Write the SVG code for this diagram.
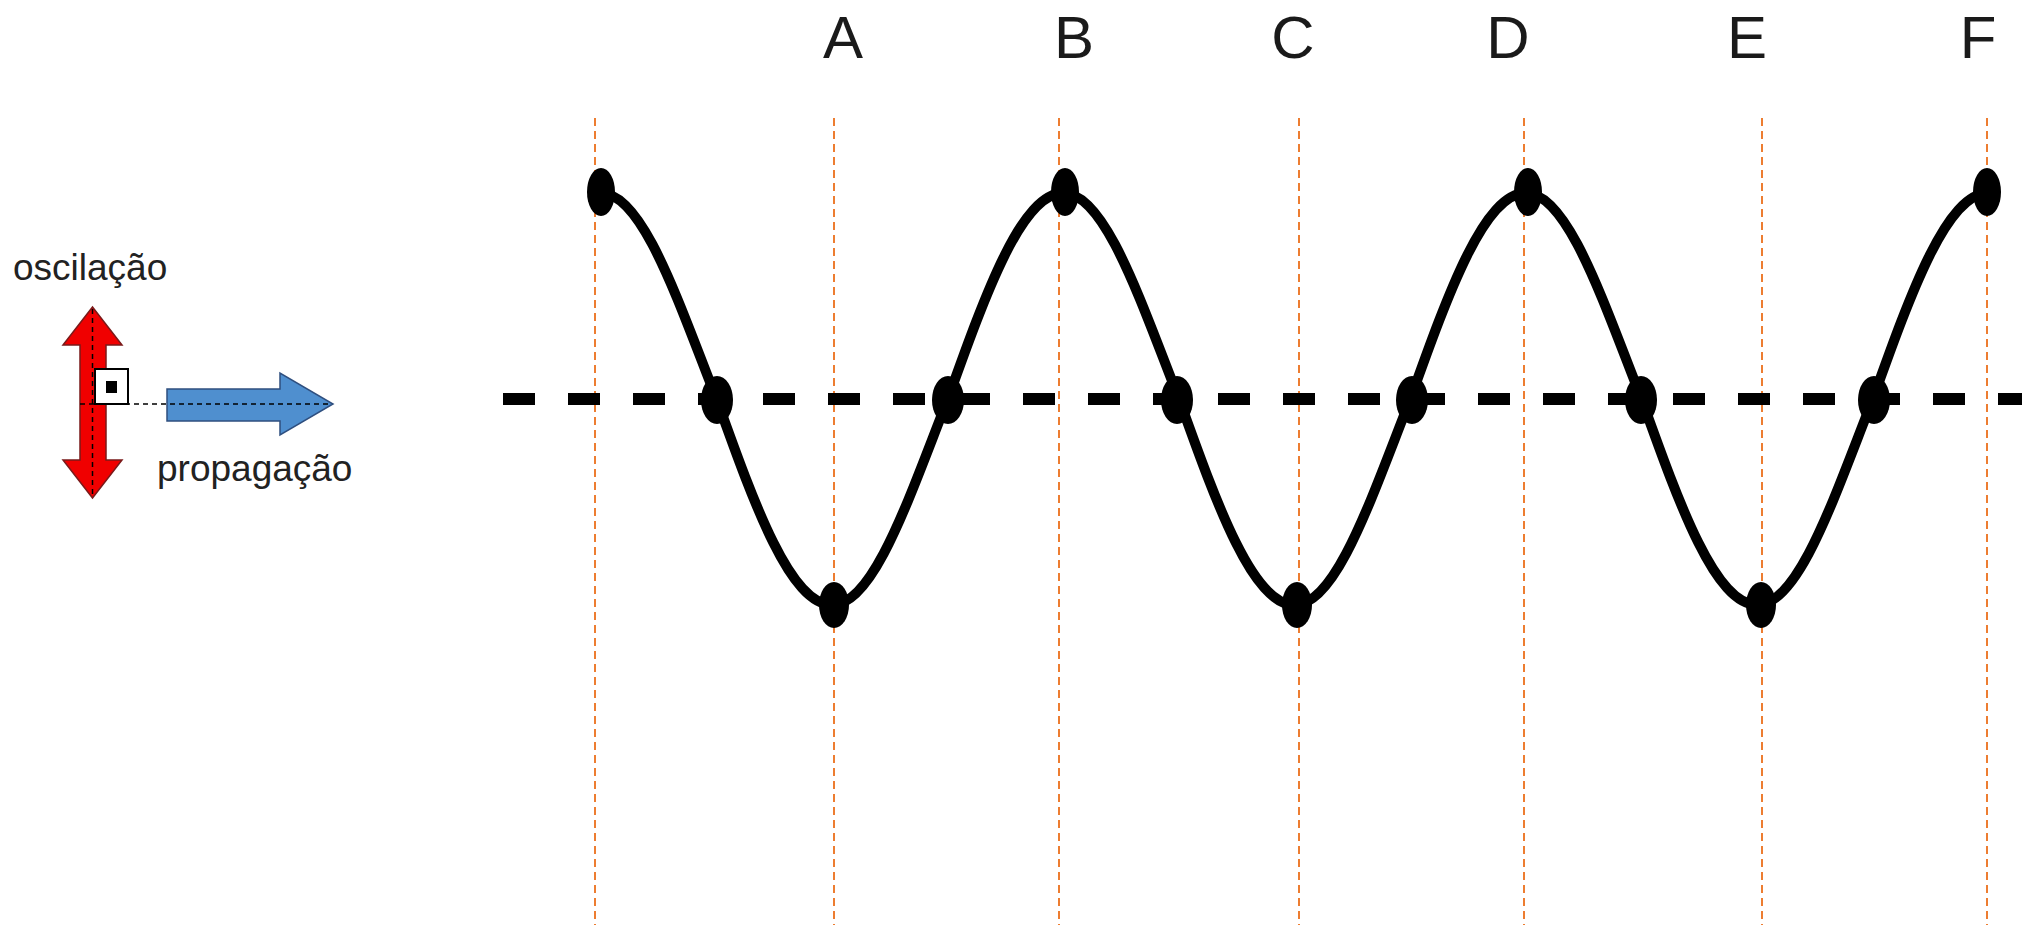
<svg xmlns="http://www.w3.org/2000/svg" width="2022" height="925" viewBox="0 0 2022 925">
<style>
.guide{stroke:#ED7D31;stroke-width:2;stroke-dasharray:8 5;fill:none}
.lbl{font-family:"Liberation Sans",Arial,sans-serif;font-size:60px;fill:#1a1a1a;text-anchor:middle}
.txt{font-family:"Liberation Sans",Arial,sans-serif;font-size:37px;fill:#222}
.dot{fill:#000}
.thin{stroke:#000;stroke-width:1.5;stroke-dasharray:5 4;fill:none}
</style>
<rect width="2022" height="925" fill="#fff"/>
<g id="guides">
<line class="guide" x1="595" y1="118" x2="595" y2="925"/>
<line class="guide" x1="834" y1="118" x2="834" y2="925"/>
<line class="guide" x1="1059" y1="118" x2="1059" y2="925"/>
<line class="guide" x1="1299" y1="118" x2="1299" y2="925"/>
<line class="guide" x1="1524" y1="118" x2="1524" y2="925"/>
<line class="guide" x1="1762" y1="118" x2="1762" y2="925"/>
<line class="guide" x1="1987" y1="118" x2="1987" y2="925"/>
</g>
<g id="labels">
<text class="lbl" x="843" y="58">A</text>
<text class="lbl" x="1074" y="58">B</text>
<text class="lbl" x="1293" y="58">C</text>
<text class="lbl" x="1508" y="58">D</text>
<text class="lbl" x="1747" y="58">E</text>
<text class="lbl" x="1978" y="58">F</text>
</g>
<g id="axis">
<line x1="503" y1="399" x2="2022" y2="399" stroke="#000" stroke-width="12" stroke-dasharray="32 33"/>
</g>
<g id="wave">
<path d="M 601 193 C 642.62 193 677.97 301.2 716.6 399 C 755.25 507.2 790.6 605 832.25 605 C 873.87 605 909.22 496.8 947.9 399 C 986.55 290.8 1021.9 193 1063.5 193 C 1105.12 193 1140.47 301.2 1179.1 399 C 1217.75 507.2 1253.1 605 1294.75 605 C 1336.37 605 1371.72 496.8 1410.4 399 C 1449.05 290.8 1484.4 193 1526 193 C 1567.62 193 1602.97 301.2 1641.6 399 C 1680.25 507.2 1715.6 605 1757.25 605 C 1798.87 605 1834.22 496.8 1872.9 399 C 1911.55 290.8 1946.9 193 1988.5 193" fill="none" stroke="#000" stroke-width="10"/>
</g>
<g id="points">
<ellipse class="dot" cx="601" cy="192" rx="14" ry="24"/>
<ellipse class="dot" cx="1065" cy="192" rx="14" ry="24"/>
<ellipse class="dot" cx="1528" cy="192" rx="14" ry="24"/>
<ellipse class="dot" cx="1987" cy="192" rx="14" ry="24"/>
<ellipse class="dot" cx="834" cy="605" rx="15" ry="23"/>
<ellipse class="dot" cx="1297" cy="605" rx="15" ry="23"/>
<ellipse class="dot" cx="1761" cy="605" rx="15" ry="23"/>
<ellipse class="dot" cx="717" cy="400" rx="16" ry="24"/>
<ellipse class="dot" cx="948" cy="400" rx="16" ry="24"/>
<ellipse class="dot" cx="1177" cy="400" rx="16" ry="24"/>
<ellipse class="dot" cx="1412" cy="400" rx="16" ry="24"/>
<ellipse class="dot" cx="1641" cy="400" rx="16" ry="24"/>
<ellipse class="dot" cx="1874" cy="400" rx="16" ry="24"/>
</g>
<g id="legend">
<text class="txt" x="13" y="280">oscilação</text>
<path d="M 92.5 307 L 122 345 L 106 345 L 106 460 L 122 460 L 92.5 498 L 63 460 L 80 460 L 80 345 L 63 345 Z" fill="#f00000" stroke="#7a1a1a" stroke-width="1.5"/>
<line class="thin" x1="92.5" y1="309" x2="92.5" y2="496"/>
<path d="M 167 389 L 280 389 L 280 373 L 333 404 L 280 435 L 280 421 L 167 421 Z" fill="#4F8FCF" stroke="#2F4F7F" stroke-width="1.5"/>
<line class="thin" x1="80" y1="404" x2="331" y2="404"/>
<rect x="95" y="369" width="33" height="35" fill="#fff" stroke="#000" stroke-width="2"/>
<rect x="106" y="381" width="11" height="12" fill="#000"/>
<text class="txt" x="157" y="481">propagação</text>
</g>
</svg>
